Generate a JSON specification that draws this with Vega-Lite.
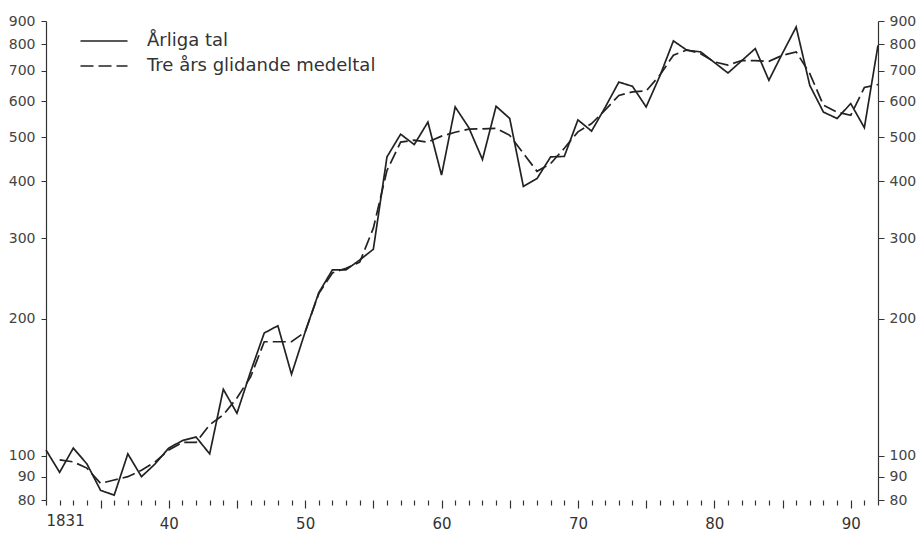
{
  "$schema": "https://vega.github.io/schema/vega-lite/v6.json",
  "width": 832,
  "height": 479,
  "autosize": {"type": "none"},
  "padding": {"left": 46, "top": 21, "right": 44, "bottom": 35},
  "background": "white",
  "config": {"view": {"stroke": null}, "font": "DejaVu Sans"},
  "data": {"values": [
    {"year": 1831, "series": "Årliga tal", "value": 103},
    {"year": 1832, "series": "Årliga tal", "value": 92},
    {"year": 1833, "series": "Årliga tal", "value": 104},
    {"year": 1834, "series": "Årliga tal", "value": 96},
    {"year": 1835, "series": "Årliga tal", "value": 84},
    {"year": 1836, "series": "Årliga tal", "value": 82},
    {"year": 1837, "series": "Årliga tal", "value": 101},
    {"year": 1838, "series": "Årliga tal", "value": 90},
    {"year": 1839, "series": "Årliga tal", "value": 96},
    {"year": 1840, "series": "Årliga tal", "value": 104},
    {"year": 1841, "series": "Årliga tal", "value": 108},
    {"year": 1842, "series": "Årliga tal", "value": 110},
    {"year": 1843, "series": "Årliga tal", "value": 101},
    {"year": 1844, "series": "Årliga tal", "value": 140},
    {"year": 1845, "series": "Årliga tal", "value": 124},
    {"year": 1846, "series": "Årliga tal", "value": 153},
    {"year": 1847, "series": "Årliga tal", "value": 186},
    {"year": 1848, "series": "Årliga tal", "value": 193},
    {"year": 1849, "series": "Årliga tal", "value": 151},
    {"year": 1850, "series": "Årliga tal", "value": 187},
    {"year": 1851, "series": "Årliga tal", "value": 228},
    {"year": 1852, "series": "Årliga tal", "value": 256},
    {"year": 1853, "series": "Årliga tal", "value": 256},
    {"year": 1854, "series": "Årliga tal", "value": 269},
    {"year": 1855, "series": "Årliga tal", "value": 284},
    {"year": 1856, "series": "Årliga tal", "value": 453},
    {"year": 1857, "series": "Årliga tal", "value": 508},
    {"year": 1858, "series": "Årliga tal", "value": 482},
    {"year": 1859, "series": "Årliga tal", "value": 540},
    {"year": 1860, "series": "Årliga tal", "value": 413},
    {"year": 1861, "series": "Årliga tal", "value": 583},
    {"year": 1862, "series": "Årliga tal", "value": 525},
    {"year": 1863, "series": "Årliga tal", "value": 447},
    {"year": 1864, "series": "Årliga tal", "value": 585},
    {"year": 1865, "series": "Årliga tal", "value": 550},
    {"year": 1866, "series": "Årliga tal", "value": 390},
    {"year": 1867, "series": "Årliga tal", "value": 406},
    {"year": 1868, "series": "Årliga tal", "value": 453},
    {"year": 1869, "series": "Årliga tal", "value": 454},
    {"year": 1870, "series": "Årliga tal", "value": 546},
    {"year": 1871, "series": "Årliga tal", "value": 516},
    {"year": 1872, "series": "Årliga tal", "value": 582},
    {"year": 1873, "series": "Årliga tal", "value": 661},
    {"year": 1874, "series": "Årliga tal", "value": 647},
    {"year": 1875, "series": "Årliga tal", "value": 583},
    {"year": 1876, "series": "Årliga tal", "value": 681},
    {"year": 1877, "series": "Årliga tal", "value": 814},
    {"year": 1878, "series": "Årliga tal", "value": 776},
    {"year": 1879, "series": "Årliga tal", "value": 770},
    {"year": 1880, "series": "Årliga tal", "value": 730},
    {"year": 1881, "series": "Årliga tal", "value": 692},
    {"year": 1882, "series": "Årliga tal", "value": 736},
    {"year": 1883, "series": "Årliga tal", "value": 783},
    {"year": 1884, "series": "Årliga tal", "value": 667},
    {"year": 1885, "series": "Årliga tal", "value": 765},
    {"year": 1886, "series": "Årliga tal", "value": 873},
    {"year": 1887, "series": "Årliga tal", "value": 650},
    {"year": 1888, "series": "Årliga tal", "value": 568},
    {"year": 1889, "series": "Årliga tal", "value": 550},
    {"year": 1890, "series": "Årliga tal", "value": 593},
    {"year": 1891, "series": "Årliga tal", "value": 525},
    {"year": 1892, "series": "Årliga tal", "value": 796},
    {"year": 1832, "series": "Tre års glidande medeltal", "value": 98},
    {"year": 1833, "series": "Tre års glidande medeltal", "value": 97},
    {"year": 1834, "series": "Tre års glidande medeltal", "value": 94},
    {"year": 1835, "series": "Tre års glidande medeltal", "value": 87},
    {"year": 1836, "series": "Tre års glidande medeltal", "value": 88.5},
    {"year": 1837, "series": "Tre års glidande medeltal", "value": 90},
    {"year": 1838, "series": "Tre års glidande medeltal", "value": 93},
    {"year": 1839, "series": "Tre års glidande medeltal", "value": 97},
    {"year": 1840, "series": "Tre års glidande medeltal", "value": 103},
    {"year": 1841, "series": "Tre års glidande medeltal", "value": 107},
    {"year": 1842, "series": "Tre års glidande medeltal", "value": 107},
    {"year": 1843, "series": "Tre års glidande medeltal", "value": 117},
    {"year": 1844, "series": "Tre års glidande medeltal", "value": 123},
    {"year": 1845, "series": "Tre års glidande medeltal", "value": 134},
    {"year": 1846, "series": "Tre års glidande medeltal", "value": 149},
    {"year": 1847, "series": "Tre års glidande medeltal", "value": 178},
    {"year": 1848, "series": "Tre års glidande medeltal", "value": 178},
    {"year": 1849, "series": "Tre års glidande medeltal", "value": 178},
    {"year": 1850, "series": "Tre års glidande medeltal", "value": 187},
    {"year": 1851, "series": "Tre års glidande medeltal", "value": 227},
    {"year": 1852, "series": "Tre års glidande medeltal", "value": 252},
    {"year": 1853, "series": "Tre års glidande medeltal", "value": 258},
    {"year": 1854, "series": "Tre års glidande medeltal", "value": 266},
    {"year": 1855, "series": "Tre års glidande medeltal", "value": 316},
    {"year": 1856, "series": "Tre års glidande medeltal", "value": 423},
    {"year": 1857, "series": "Tre års glidande medeltal", "value": 488},
    {"year": 1858, "series": "Tre års glidande medeltal", "value": 493},
    {"year": 1859, "series": "Tre års glidande medeltal", "value": 488},
    {"year": 1860, "series": "Tre års glidande medeltal", "value": 503},
    {"year": 1861, "series": "Tre års glidande medeltal", "value": 513},
    {"year": 1862, "series": "Tre års glidande medeltal", "value": 521},
    {"year": 1863, "series": "Tre års glidande medeltal", "value": 522},
    {"year": 1864, "series": "Tre års glidande medeltal", "value": 523},
    {"year": 1865, "series": "Tre års glidande medeltal", "value": 505},
    {"year": 1866, "series": "Tre års glidande medeltal", "value": 461},
    {"year": 1867, "series": "Tre års glidande medeltal", "value": 421},
    {"year": 1868, "series": "Tre års glidande medeltal", "value": 438},
    {"year": 1869, "series": "Tre års glidande medeltal", "value": 473},
    {"year": 1870, "series": "Tre års glidande medeltal", "value": 514},
    {"year": 1871, "series": "Tre års glidande medeltal", "value": 536},
    {"year": 1872, "series": "Tre års glidande medeltal", "value": 574},
    {"year": 1873, "series": "Tre års glidande medeltal", "value": 618},
    {"year": 1874, "series": "Tre års glidande medeltal", "value": 629},
    {"year": 1875, "series": "Tre års glidande medeltal", "value": 632},
    {"year": 1876, "series": "Tre års glidande medeltal", "value": 684},
    {"year": 1877, "series": "Tre års glidande medeltal", "value": 757},
    {"year": 1878, "series": "Tre års glidande medeltal", "value": 778},
    {"year": 1879, "series": "Tre års glidande medeltal", "value": 763},
    {"year": 1880, "series": "Tre års glidande medeltal", "value": 732},
    {"year": 1881, "series": "Tre års glidande medeltal", "value": 720},
    {"year": 1882, "series": "Tre års glidande medeltal", "value": 737},
    {"year": 1883, "series": "Tre års glidande medeltal", "value": 737},
    {"year": 1884, "series": "Tre års glidande medeltal", "value": 734},
    {"year": 1885, "series": "Tre års glidande medeltal", "value": 757},
    {"year": 1886, "series": "Tre års glidande medeltal", "value": 770},
    {"year": 1887, "series": "Tre års glidande medeltal", "value": 690},
    {"year": 1888, "series": "Tre års glidande medeltal", "value": 588},
    {"year": 1889, "series": "Tre års glidande medeltal", "value": 568},
    {"year": 1890, "series": "Tre års glidande medeltal", "value": 559},
    {"year": 1891, "series": "Tre års glidande medeltal", "value": 643},
    {"year": 1892, "series": "Tre års glidande medeltal", "value": 653}
  ]},
  "encoding": {
    "x": {
      "field": "year",
      "type": "quantitative",
      "scale": {"domain": [1831, 1892], "nice": false, "zero": false},
      "axis": {
        "values": [1831,1832,1833,1834,1835,1836,1837,1838,1839,1840,1841,1842,1843,1844,1845,1846,1847,1848,1849,1850,1851,1852,1853,1854,1855,1856,1857,1858,1859,1860,1861,1862,1863,1864,1865,1866,1867,1868,1869,1870,1871,1872,1873,1874,1875,1876,1877,1878,1879,1880,1881,1882,1883,1884,1885,1886,1887,1888,1889,1890,1891,1892],
        "domain": false,
        "grid": false,
        "title": null,
        "labelExpr": "datum.value === 1831 ? '1831' : (datum.value % 10 === 0 ? format(datum.value % 100, 'd') : '')",
        "tickSize": {"condition": {"test": "datum.value % 5 === 0", "value": 8}, "value": 5},
        "tickColor": "#333",
        "tickWidth": 1.2,
        "labelFontSize": 15,
        "labelColor": "#333",
        "labelPadding": 8,
        "labelAlign": {"condition": {"test": "datum.value === 1831", "value": "left"}, "value": "center"},
        "labelFlush": false,
        "labelOverlap": false,
        "labelBound": false
      }
    },
    "strokeDash": {
      "field": "series",
      "type": "nominal",
      "scale": {"domain": ["Årliga tal", "Tre års glidande medeltal"], "range": [[1, 0], [13, 5]]},
      "legend": {
        "orient": "none",
        "legendX": 49,
        "legendY": 11,
        "title": null,
        "symbolType": "M-4.7,0H4.7",
        "symbolSize": 100,
        "symbolStrokeWidth": 1.6,
        "symbolStrokeColor": "#222",
        "labelFontSize": 18,
        "labelColor": "#333",
        "labelLimit": 0,
        "labelOffset": 34,
        "rowPadding": 7,
        "padding": 0
      }
    }
  },
  "layer": [
    {
      "transform": [{"filter": "datum.series === 'Årliga tal'"}],
      "mark": {"type": "line", "color": "#222", "strokeWidth": 1.7},
      "encoding": {
        "y": {
          "field": "value",
          "type": "quantitative",
          "scale": {"type": "log", "domain": [80, 900], "nice": false},
          "axis": {
            "orient": "left",
            "values": [80, 90, 100, 200, 300, 400, 500, 600, 700, 800, 900],
            "title": null,
            "grid": false,
            "domain": true,
            "domainColor": "#333",
            "domainWidth": 1.2,
            "tickColor": "#333",
            "tickSize": 5,
            "labelPadding": 6,
            "labelFontSize": 14,
            "labelColor": "#444",
            "labelFlush": false,
            "labelOverlap": false,
            "format": "d"
          }
        }
      }
    },
    {
      "transform": [{"filter": "datum.series !== 'Årliga tal'"}],
      "mark": {"type": "line", "color": "#222", "strokeWidth": 1.7},
      "encoding": {
        "y": {
          "field": "value",
          "type": "quantitative",
          "scale": {"type": "log", "domain": [80, 900], "nice": false},
          "axis": {
            "orient": "right",
            "values": [80, 90, 100, 200, 300, 400, 500, 600, 700, 800, 900],
            "title": null,
            "grid": false,
            "domain": true,
            "domainColor": "#333",
            "domainWidth": 1.2,
            "tickColor": "#333",
            "tickSize": 6,
            "labelPadding": 5,
            "labelFontSize": 14,
            "labelColor": "#444",
            "labelFlush": false,
            "labelOverlap": false,
            "format": "d"
          }
        }
      }
    }
  ],
  "resolve": {"axis": {"y": "independent"}}
}
